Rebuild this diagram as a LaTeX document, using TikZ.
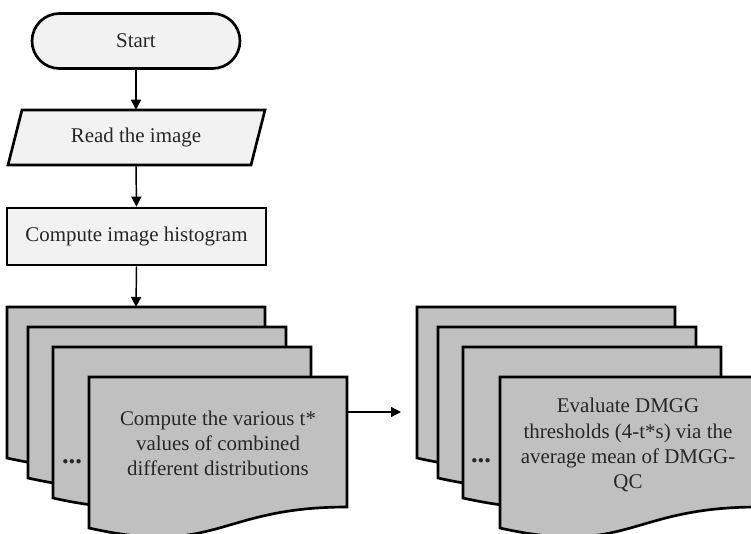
\documentclass[tikz,border=0pt]{standalone}
\usepackage{fontspec}
\setmainfont{Liberation Serif}
\usetikzlibrary{arrows.meta}
\definecolor{boxlight}{HTML}{F2F2F2}
\definecolor{docgray}{HTML}{C0C0C0}
\definecolor{txt}{HTML}{262626}
\newcommand\mydocshape[2]{%
  \begin{scope}[shift={(#1,#2)}]
    \draw[docstyle] (0,0) -- (258,0) -- (258,130)
      .. controls (129,130) and (129,180) .. (0,151) -- cycle;
  \end{scope}}
\begin{document}
\begin{tikzpicture}[x=0.75pt,y=-0.75pt,
  basefont/.style={font=\fontsize{15.7}{18.8}\selectfont, text=txt},
  lightbox/.style={draw=black, line width=2pt, fill=boxlight, basefont, inner sep=0pt},
  docstyle/.style={draw=black, line width=2pt, fill=docgray, line join=miter},
  flow/.style={line width=1.1pt, -{Triangle[length=7.5pt,width=7.5pt]}},
  doctext/.style={basefont, align=center, inner sep=0pt},
  dotsstyle/.style={font=\fontsize{20}{20}\selectfont\bfseries, text=txt, inner sep=0pt}
]
\useasboundingbox (0,0) rectangle (751,533);
\clip (0,0) rectangle (751,533);

% Start
\node[lightbox, rounded corners=20.6pt, minimum width=156pt, minimum height=41.25pt] (start) at (136,41) {Start};

% Read the image (parallelogram)
\draw[line width=2pt, fill=boxlight] (22,110) -- (265,110) -- (251,165) -- (8,165) -- cycle;
\node[basefont, minimum width=170pt, minimum height=41.25pt, inner sep=0pt] (read) at (136,137.5) {Read the image};

% Histogram
\node[lightbox, minimum width=194.25pt, minimum height=42.75pt] (hist) at (136.5,236.5) {Compute image histogram};

% Left stack
\mydocshape{7}{307}
\mydocshape{28}{327}
\mydocshape{53}{347}
\mydocshape{89}{377}
\coordinate (ltop) at (136,307);
\coordinate (lright) at (347,412);
\node[doctext] (ltext) at (218,443) {Compute the various t*\\values of combined\\different distributions};
\node[dotsstyle] (ldots) at (72,462) {...};

% Right stack
\mydocshape{417}{307}
\mydocshape{438}{327}
\mydocshape{463}{347}
\mydocshape{500}{377}
\coordinate (rin) at (401,412);
\node[doctext] (rtext) at (628,445) {Evaluate DMGG\\thresholds (4-t*s) via the\\average mean of DMGG-\\QC};
\node[dotsstyle] (rdots) at (481,461) {...};

% Connectors
\draw[flow] (start.south) -- (read.north);
\draw[flow] (read.south) -- (hist.north);
\draw[flow] (hist.south) -- (ltop);
\draw[flow] (lright) -- (rin);
\end{tikzpicture}
\end{document}
